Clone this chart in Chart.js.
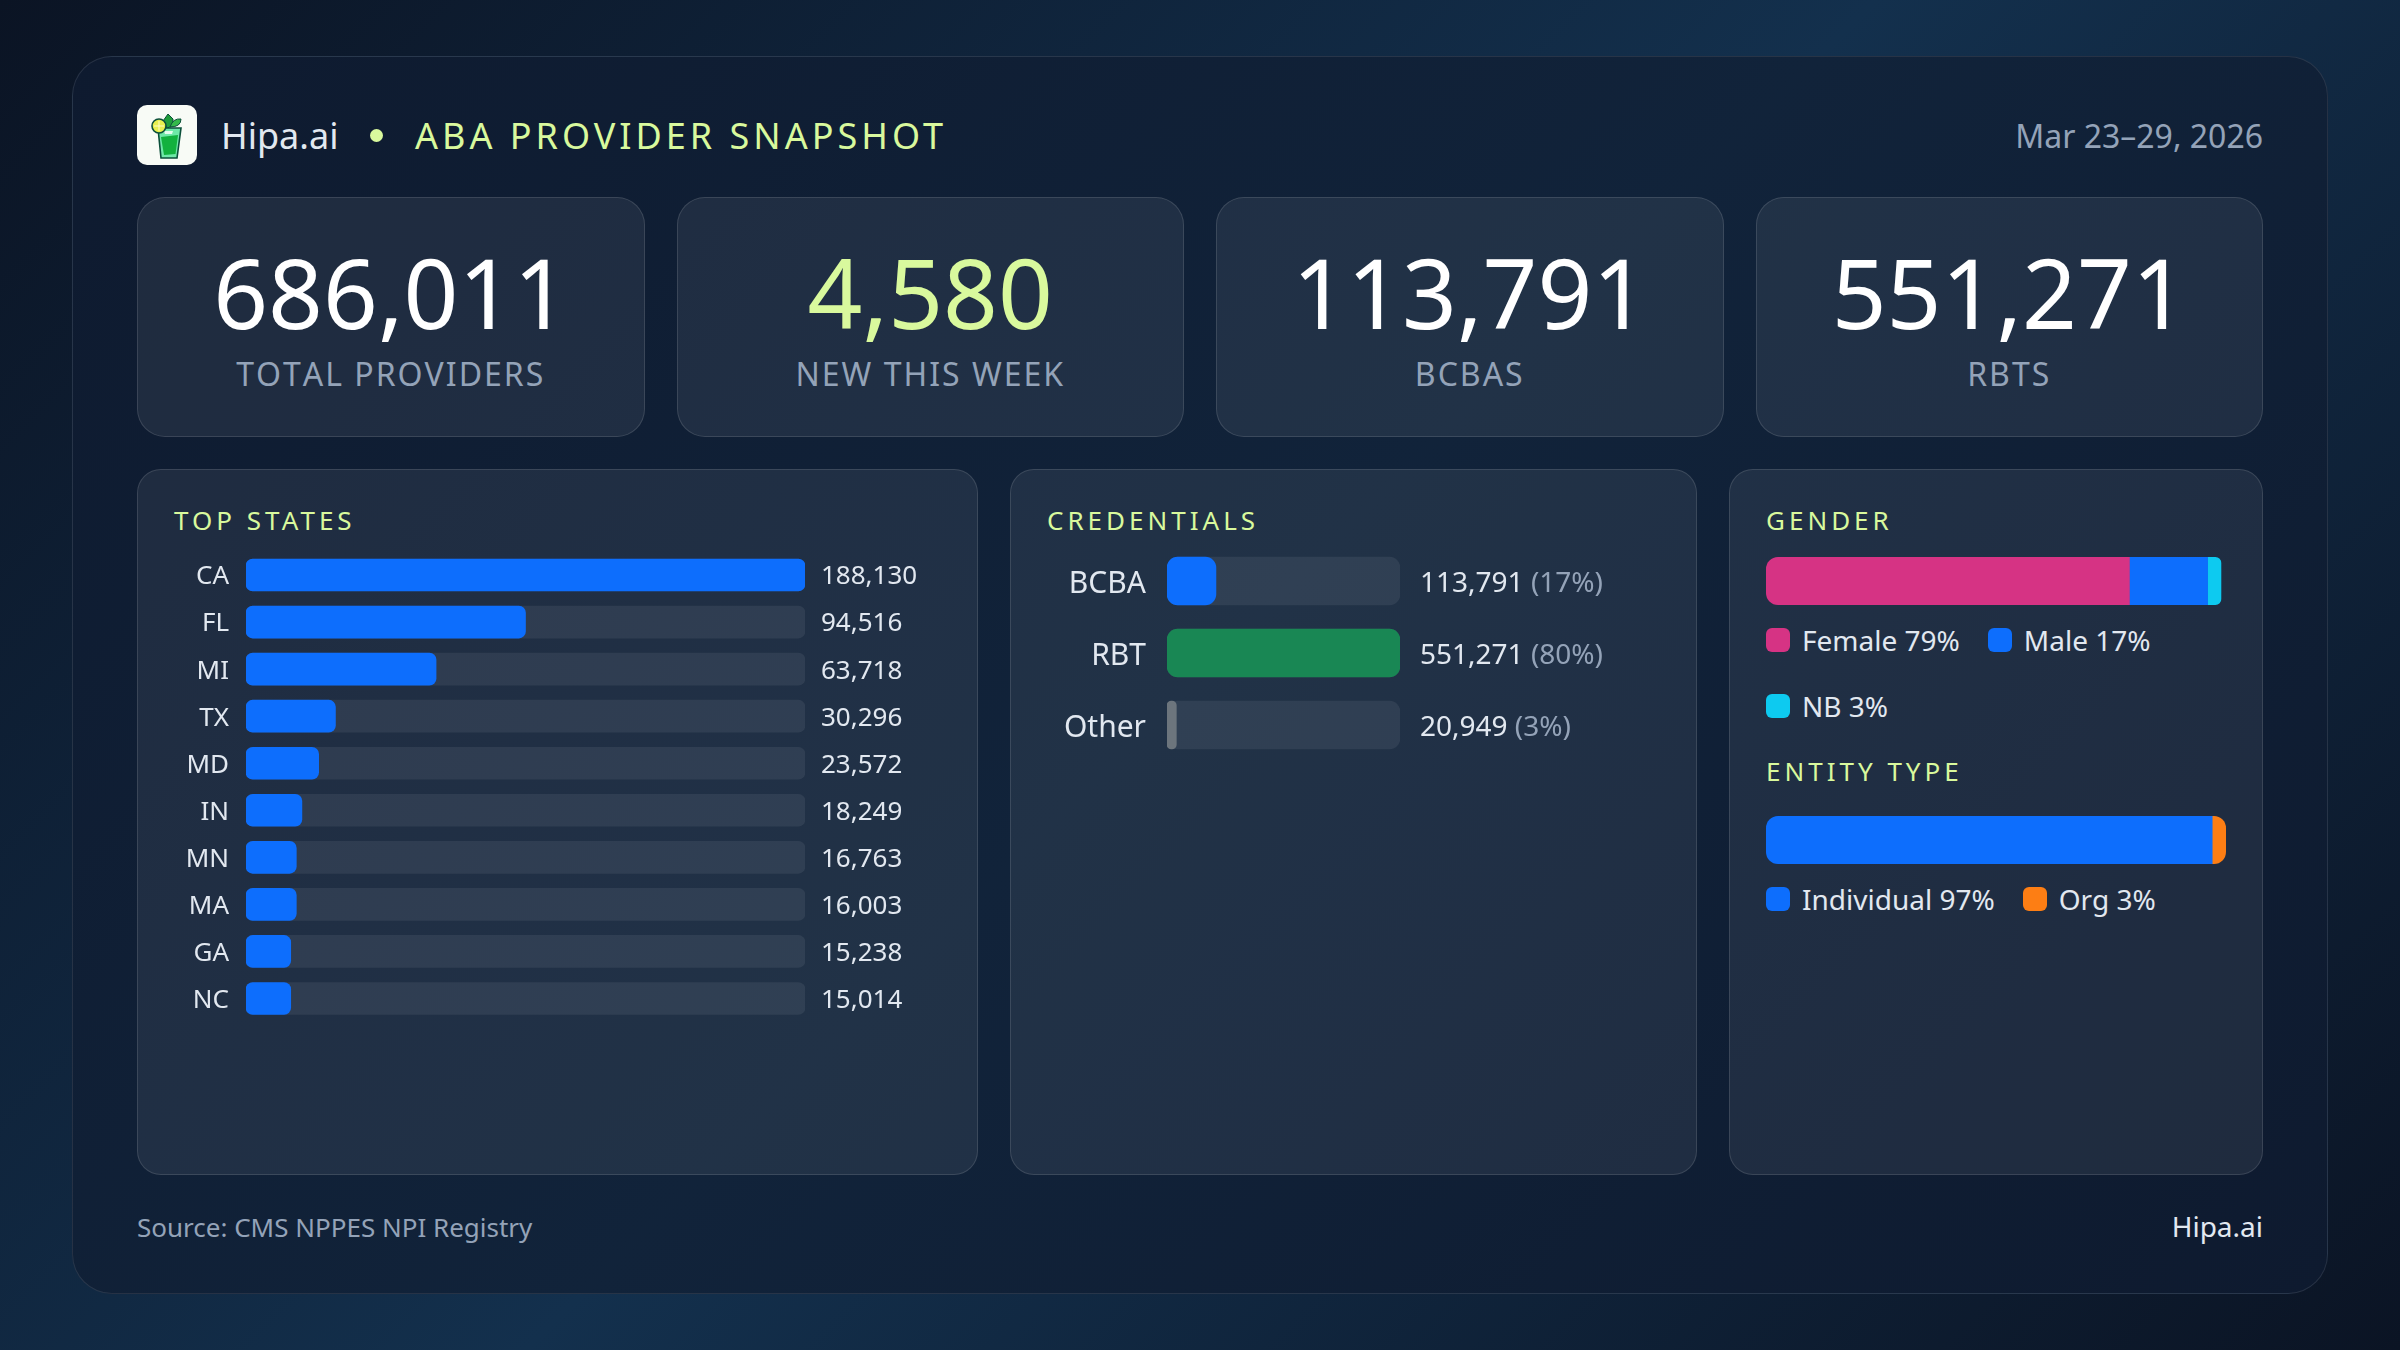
<!DOCTYPE html>
<html>
<head>
<meta charset="utf-8">
<title>ABA Provider Snapshot</title>
<script src="https://cdn.jsdelivr.net/npm/chart.js@4"></script>
<style>
  * { box-sizing: border-box; margin: 0; padding: 0; }
  html, body { width: 2400px; height: 1350px; overflow: hidden; }
  body {
    position: relative;
    font-family: "Noto Sans", sans-serif;
    background: linear-gradient(135deg, #0b1424 0%, #13304d 50%, #0b1424 100%);
    color: #e2e8f0;
  }
  .abs { position: absolute; line-height: 1; white-space: nowrap; }
  .frame {
    position: absolute; left: 72px; top: 56px; width: 2256px; height: 1238px;
    border: 1px solid rgba(255,255,255,0.1); border-radius: 40px;
    background: linear-gradient(135deg, #0e1a2f 0%, #11233a 50%, #0e1a2f 100%);
  }
  .card, .panel {
    position: absolute;
    background: rgba(255,255,255,0.07);
    border: 1px solid rgba(255,255,255,0.12);
  }
  .card { top: 197px; width: 507.5px; height: 240px; border-radius: 28px; }
  .panel { top: 469px; height: 706px; border-radius: 24px; }
  .num { top: 244px; width: 507.5px; text-align: center; font-size: 96px; color: #fff; }
  .lbl { top: 358px; width: 507.5px; text-align: center; font-size: 32px; letter-spacing: 2px; font-kerning: none; color: #94a3b8; }
  .title { font-size: 26px; letter-spacing: 4px; color: #d9f99d; }
  canvas { position: absolute; }
  .legend { position: absolute; display: flex; flex-wrap: wrap; column-gap: 28px; row-gap: 28px; font-size: 28px; line-height: 38px; color: #e2e8f0; }
  .legend span.item { display: flex; align-items: center; white-space: nowrap; height: 38px; }
  .legend i { display: block; width: 24px; height: 24px; border-radius: 6px; margin-right: 12px; }
</style>
</head>
<body>
<div class="frame"></div>

<svg class="abs" style="left:137px;top:105px" width="60" height="60" viewBox="0 0 60 60">
  <rect width="60" height="60" rx="10" fill="#f8fbf6"/>
  <path d="M31 9 l5 5 l0 7 l-6 2 l-4 -7z" fill="#1f9d3a" stroke="#0b4f3a" stroke-width="1"/>
  <path d="M33 22 q3 -9 11 -8 q0 8 -11 8z" fill="#35b84a" stroke="#0b4f3a" stroke-width="1"/>
  <path d="M21 23 L44 23 L40 53 L24 53 Z" fill="#6fe8a8" stroke="#0b4f3a" stroke-width="1.6"/>
  <path d="M24 32 L41 30 L38.5 49 L27 50 Z" fill="#12b13e"/>
  <path d="M27 26 h9 l-1 3 h-7z" fill="#e6fbee"/>
  <circle cx="22" cy="21" r="7" fill="#e7ef4f" stroke="#0b4f3a" stroke-width="1.6"/>
  <path d="M22 16 v10 M17 21 h10" stroke="#fbfbc8" stroke-width="1"/>
</svg>
<div class="abs" style="left:221px;top:118px;font-size:36px;color:#e2e8f0">Hipa.ai</div>
<div class="abs" style="left:370px;top:129px;width:13px;height:13px;border-radius:50%;background:#d9f99d"></div>
<div class="abs" style="left:415px;top:118px;font-size:36px;letter-spacing:4px;color:#d9f99d">ABA PROVIDER SNAPSHOT</div>
<div class="abs" style="right:137px;top:120px;font-size:32px;color:#94a3b8">Mar 23–29, 2026</div>

<div id="kpis"></div>

<div class="panel" style="left:137px;width:841px"></div>
<div class="panel" style="left:1010px;width:687px"></div>
<div class="panel" style="left:1729px;width:534px"></div>

<div class="abs title" style="left:174px;top:507px">TOP STATES</div>
<div class="abs title" style="left:1047px;top:507px">CREDENTIALS</div>
<div class="abs title" style="left:1766px;top:507px">GENDER</div>
<div class="abs title" style="left:1766px;top:758px">ENTITY TYPE</div>

<canvas id="statesChart" width="838" height="471" style="left:138px;top:551px"></canvas>
<canvas id="credChart" width="680" height="216" style="left:1012px;top:545px"></canvas>
<canvas id="genderChart" width="460" height="48" style="left:1766px;top:557px"></canvas>
<canvas id="entityChart" width="460" height="48" style="left:1766px;top:816px"></canvas>

<div class="legend" id="genderLegend" style="left:1766px;top:621px;width:460px"></div>
<div class="legend" id="entityLegend" style="left:1766px;top:880px;width:460px"></div>

<div class="abs" style="left:137px;top:1214px;font-size:26px;color:#94a3b8">Source: CMS NPPES NPI Registry</div>
<div class="abs" style="right:137px;top:1212px;font-size:28px;color:#e2e8f0">Hipa.ai</div>

<script>
// Valores
const kpiLabels = ["TOTAL PROVIDERS", "NEW THIS WEEK", "BCBAS", "RBTS"];
const kpiValues = [686011, 4580, 113791, 551271];

const stateLabels = ["CA", "FL", "MI", "TX", "MD", "IN", "MN", "MA", "GA", "NC"];
const stateValues = [188130, 94516, 63718, 30296, 23572, 18249, 16763, 16003, 15238, 15014];
// comprimento das barras em % do maior valor, arredondado como na imagem
const stateBars = [100, 50, 34, 16, 13, 10, 9, 9, 8, 8];

const credLabels = ["BCBA", "RBT", "Other"];
const credValues = [113791, 551271, 20949];
const credShares = [17, 80, 3];
const credBars = [21, 100, 4];

const genderLabels = ["Female", "Male", "NB"];
const genderShares = [79, 17, 3];

const entityLabels = ["Individual", "Org"];
const entityShares = [97, 3];

const FONT = '"Noto Sans", sans-serif';
const TRACK = "rgba(255,255,255,0.07)";
const BLUE = "#0d6efd";
const MUTED = "#94a3b8";
const TEXT = "#e2e8f0";
const genderColors = ["#d63384", BLUE, "#0dcaf0"];
const entityColors = [BLUE, "#fd7e14"];
const credColors = [BLUE, "#198754", "#6c757d"];

Chart.defaults.animation = false;
Chart.defaults.responsive = false;
Chart.defaults.font.family = FONT;
Chart.defaults.plugins.legend.display = false;
Chart.defaults.plugins.tooltip.enabled = false;

// KPIs
const kpis = document.getElementById("kpis");
kpiValues.forEach((valor, i) => {
  const left = 137 + i * 539.5;
  const cor = i === 1 ? "#d9f99d" : "#fff";
  kpis.insertAdjacentHTML("beforeend", `
    <div class="card" style="left:${left}px"></div>
    <div class="abs num" style="left:${left}px;color:${cor}">${valor.toLocaleString("en-US")}</div>
    <div class="abs lbl" style="left:${left}px">${kpiLabels[i]}</div>`);
});

function montarLegenda(id, labels, shares, cores) {
  const el = document.getElementById(id);
  labels.forEach((nome, i) => {
    el.insertAdjacentHTML("beforeend",
      `<span class="item"><i style="background:${cores[i]}"></i>${nome} ${shares[i]}%</span>`);
  });
}
montarLegenda("genderLegend", genderLabels, genderShares, genderColors);
montarLegenda("entityLegend", entityLabels, entityShares, entityColors);

// Texto de valor a direita das barras
const valueLabels = {
  id: "valueLabels",
  afterDatasetsDraw(chart, args, opts) {
    const ctx = chart.ctx;
    const meta = chart.getDatasetMeta(0);
    ctx.save();
    ctx.font = `${opts.size}px ${FONT}`;
    ctx.textBaseline = "middle";
    opts.values.forEach((v, i) => {
      const y = meta.data[i].y + opts.lift;
      let x = chart.chartArea.right + opts.gap;
      const txt = v.toLocaleString("en-US");
      ctx.fillStyle = TEXT;
      ctx.fillText(txt, x, y);
      if (opts.shares) {
        x += ctx.measureText(txt + " ").width;
        ctx.fillStyle = MUTED;
        ctx.fillText(`(${opts.shares[i]}%)`, x, y);
      }
    });
    ctx.restore();
  }
};

function barrasComTrilho(id, labels, barras, valores, cores, cfg) {
  return new Chart(document.getElementById(id), {
    type: "bar",
    plugins: [valueLabels],
    data: {
      labels: labels,
      datasets: [
        { data: barras, backgroundColor: cores, borderRadius: cfg.radius, borderSkipped: false, barThickness: cfg.bar, grouped: false },
        { data: labels.map(() => 100), backgroundColor: TRACK, borderRadius: cfg.radius, borderSkipped: false, barThickness: cfg.bar, grouped: false }
      ]
    },
    options: {
      indexAxis: "y",
      layout: { padding: cfg.padding },
      scales: {
        x: { display: false, min: 0, max: 100 },
        y: {
          // sem o respiro automatico: as faixas ocupam toda a altura do canvas
          afterFit: s => { s.width = cfg.axisWidth; s.paddingTop = 0; s.paddingBottom = 0; },
          border: { display: false },
          grid: { display: false, drawTicks: false },
          ticks: { color: TEXT, font: { size: cfg.labelSize }, padding: cfg.tickPad, labelOffset: cfg.lift, autoSkip: false }
        }
      },
      plugins: { valueLabels: { values: valores, shares: cfg.shares, size: cfg.valueSize, gap: cfg.gap, lift: cfg.lift } }
    }
  });
}

barrasComTrilho("statesChart", stateLabels, stateBars, stateValues, BLUE, {
  radius: 7, bar: 32, axisWidth: 108, tickPad: 17, labelSize: 26, valueSize: 26, gap: 16, lift: 2,
  padding: { top: 0.5, right: 171 }
});

barrasComTrilho("credChart", credLabels, credBars, credValues, credColors, {
  radius: 11, bar: 48, axisWidth: 155, tickPad: 21, labelSize: 30, valueSize: 28, gap: 20, lift: 3,
  shares: credShares,
  padding: { right: 680 - 155 - 233 }
});

// Arredonda as pontas da barra empilhada inteira
const clipEnds = {
  id: "clipEnds",
  beforeDatasetsDraw(chart, args, opts) {
    const ctx = chart.ctx;
    const last = chart.getDatasetMeta(chart.data.datasets.length - 1).data[0];
    const a = chart.chartArea;
    ctx.save();
    ctx.beginPath();
    ctx.roundRect(a.left, a.top, last.x - a.left, a.bottom - a.top, [12, opts.rightRadius, opts.rightRadius, 12]);
    ctx.clip();
  },
  afterDatasetsDraw(chart) {
    chart.ctx.restore();
  }
};

function barraEmpilhada(id, labels, shares, cores, rightRadius) {
  return new Chart(document.getElementById(id), {
    type: "bar",
    plugins: [clipEnds],
    data: {
      labels: [""],
      datasets: labels.map((nome, i) => ({
        label: nome,
        data: [shares[i]],
        backgroundColor: cores[i],
        borderSkipped: false,
        barPercentage: 1,
        categoryPercentage: 1
      }))
    },
    options: {
      indexAxis: "y",
      scales: {
        x: { display: false, stacked: true, min: 0, max: 100 },
        y: { display: false, stacked: true }
      },
      plugins: { clipEnds: { rightRadius: rightRadius } }
    }
  });
}

barraEmpilhada("genderChart", genderLabels, genderShares, genderColors, 6);
barraEmpilhada("entityChart", entityLabels, entityShares, entityColors, 12);
</script>
</body>
</html>
